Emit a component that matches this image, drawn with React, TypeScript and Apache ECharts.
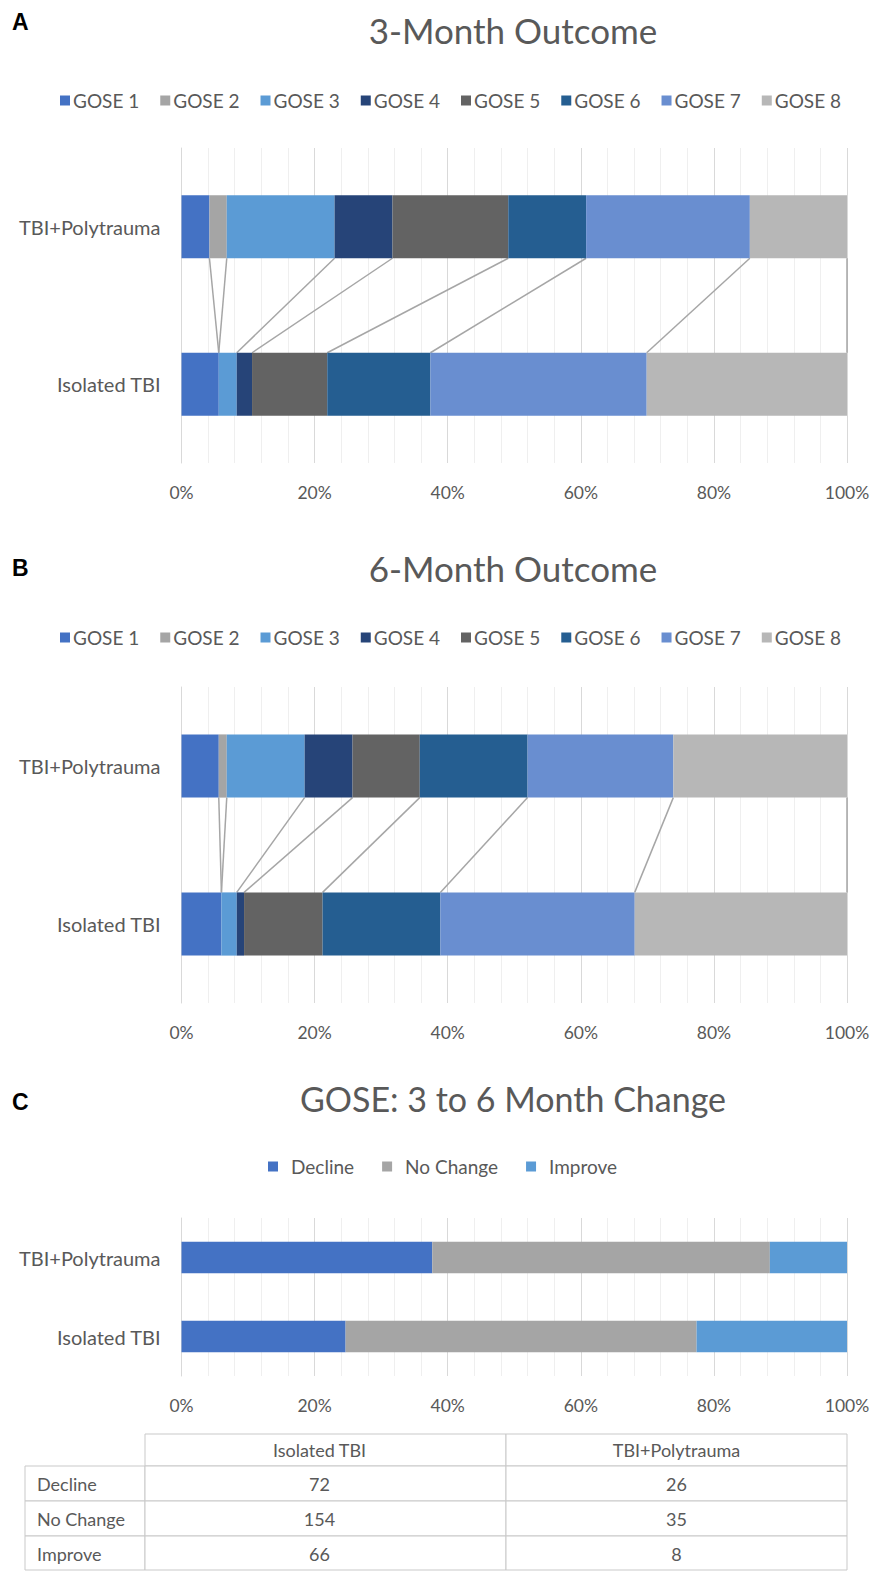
import React, { useEffect, useRef } from "react";
import * as echarts from "echarts";

const categories = ["Isolated TBI", "TBI+Polytrauma"];
const goseNames = ["GOSE 1", "GOSE 2", "GOSE 3", "GOSE 4", "GOSE 5", "GOSE 6", "GOSE 7", "GOSE 8"];
const goseColors = ["#4472C4", "#A5A5A5", "#5B9BD5", "#264478", "#636363", "#255E91", "#698ED0", "#B7B7B7"];

// percent of patients per GOSE level
const m3Isolated = [5.6, 0, 2.7, 2.3, 11.3, 15.5, 32.5, 30.1];
const m3Poly = [4.2, 2.6, 16.2, 8.7, 17.4, 11.7, 24.6, 14.6];
const m6Isolated = [6.0, 0, 2.3, 1.1, 11.8, 17.7, 29.2, 31.9];
const m6Poly = [5.6, 1.2, 11.7, 7.2, 10.1, 16.2, 21.9, 26.1];

const changeNames = ["Decline", "No Change", "Improve"];
const changeColors = ["#4472C4", "#A5A5A5", "#5B9BD5"];
const changeIsolated = [72, 154, 66];
const changePoly = [26, 35, 8];

const titles = ["3-Month Outcome", "6-Month Outcome", "GOSE: 3 to 6 Month Change"];
const panelLetters = ["A", "B", "C"];
const xTickValues = [0, 20, 40, 60, 80, 100];

const FONT = "Lato, 'Open Sans', sans-serif";
const TXT = "#595959";

function cumulative(arr: number[]) {
  const out: number[] = [];
  let s = 0;
  for (const v of arr) {
    s += v;
    out.push(s);
  }
  return out;
}

export default function App() {
  const ref = useRef<HTMLDivElement>(null);

  useEffect(() => {
    document.body.style.margin = "0";
    if (!ref.current) return;
    const chart = echarts.init(ref.current, undefined, { renderer: "svg" });

    const grids = [
      { left: 181.5, right: 31, top: 148, height: 315 },
      { left: 181.5, right: 31, top: 687, height: 316 },
      { left: 181.5, right: 31, top: 1218, height: 158 },
    ];

    const xAxes = grids.map((_, g) => ({
      type: "value",
      gridIndex: g,
      min: xTickValues[0],
      max: xTickValues[xTickValues.length - 1],
      interval: 20,
      axisLine: { show: false },
      axisTick: { show: false },
      axisLabel: {
        formatter: (v: number) => `${v}%`,
        color: TXT,
        fontSize: 17.5,
        fontFamily: FONT,
        margin: 20,
      },
      splitLine: { show: true, lineStyle: { color: "#d9d9d9", width: 1 } },
      minorTick: { show: false, splitNumber: 5 },
      minorSplitLine: { show: true, lineStyle: { color: "#efefef", width: 1 } },
    }));

    const yAxes = grids.map((_, g) => ({
      type: "category",
      gridIndex: g,
      data: categories,
      axisLine: { show: true, lineStyle: { color: "#d9d9d9" } },
      axisTick: { show: false },
      axisLabel: { color: TXT, fontSize: 20, fontFamily: FONT, margin: 21 },
    }));

    const series: any[] = [];
    const panels = [
      { iso: m3Isolated, poly: m3Poly },
      { iso: m6Isolated, poly: m6Poly },
    ];
    panels.forEach((p, g) => {
      goseNames.forEach((name, i) => {
        series.push({
          type: "bar",
          name,
          xAxisIndex: g,
          yAxisIndex: g,
          stack: "s" + g,
          barWidth: "40%",
          itemStyle: { color: goseColors[i] },
          data: [p.iso[i], p.poly[i]],
          silent: true,
        });
      });
      const cTop = cumulative(p.poly);
      const cBot = cumulative(p.iso);
      series.push({
        type: "custom",
        xAxisIndex: g,
        yAxisIndex: g,
        silent: true,
        encode: { x: [0, 1], y: 2 },
        data: cTop.map((t, i) => [t, cBot[i], 0]),
        renderItem: (params: any, api: any) => {
          const top = api.coord([api.value(0), 1]);
          const bot = api.coord([api.value(1), 0]);
          const band = Math.abs(api.coord([0, 0])[1] - api.coord([0, 1])[1]);
          const half = (band * 0.4) / 2;
          return {
            type: "line",
            shape: { x1: top[0], y1: top[1] + half, x2: bot[0], y2: bot[1] - half },
            style: { stroke: "#a6a6a6", lineWidth: 1.5 },
          };
        },
      });
    });

    const sumIso = changeIsolated.reduce((a, b) => a + b, 0);
    const sumPoly = changePoly.reduce((a, b) => a + b, 0);
    changeNames.forEach((name, i) => {
      series.push({
        type: "bar",
        name,
        xAxisIndex: 2,
        yAxisIndex: 2,
        stack: "c",
        barWidth: "40%",
        itemStyle: { color: changeColors[i] },
        data: [(changeIsolated[i] / sumIso) * 100, (changePoly[i] / sumPoly) * 100],
        silent: true,
      });
    });

    const legendText = { color: TXT, fontSize: 19, fontFamily: FONT };
    const legends = [
      { data: goseNames, left: 60, top: 91, itemGap: 21, itemWidth: 10, itemHeight: 10, icon: "rect", textStyle: { ...legendText, padding: [0, 0, 0, -2] }, padding: 0, selectedMode: false },
      { data: goseNames, left: 60, top: 628, itemGap: 21, itemWidth: 10, itemHeight: 10, icon: "rect", textStyle: { ...legendText, padding: [0, 0, 0, -2] }, padding: 0, selectedMode: false },
      { data: changeNames, left: 268, top: 1157, itemGap: 28, itemWidth: 10, itemHeight: 10, icon: "rect", textStyle: { ...legendText, padding: [0, 0, 0, 8] }, padding: 0, selectedMode: false },
    ];

    const titleTops = [12, 550, 1081];
    const titleSizes = [35, 35, 34];
    const title = titles.map((t, i) => ({
      text: t,
      left: 513,
      top: titleTops[i],
      textAlign: "center",
      padding: 0,
      textStyle: { color: TXT, fontSize: titleSizes[i], fontWeight: "normal", fontFamily: FONT },
    }));

    const letterTops = [10, 556, 1090];
    const graphics: any[] = panelLetters.map((l, i) => ({
      type: "text",
      left: 12,
      top: letterTops[i],
      style: { text: l, font: "bold 23px 'Liberation Sans', Arial, sans-serif", fill: "#000" },
    }));

    // table
    const tX = [25, 145, 506, 847];
    const headerTop = 1434;
    const headerH = 32;
    const rowH = 35;
    const border = "#c9c9c9";
    const cellText = (text: string, x: number, y: number, align: string) => ({
      type: "text",
      x,
      y,
      style: { text, font: `18px ${FONT}`, fill: TXT, align, verticalAlign: "middle" },
    });
    graphics.push({
      type: "rect",
      shape: { x: tX[1], y: headerTop, width: tX[2] - tX[1], height: headerH },
      style: { fill: "#fff", stroke: border, lineWidth: 1 },
    });
    graphics.push({
      type: "rect",
      shape: { x: tX[2], y: headerTop, width: tX[3] - tX[2], height: headerH },
      style: { fill: "#fff", stroke: border, lineWidth: 1 },
    });
    graphics.push(cellText(categories[0], (tX[1] + tX[2]) / 2 - 6, headerTop + headerH / 2, "center"));
    graphics.push(cellText(categories[1], (tX[2] + tX[3]) / 2, headerTop + headerH / 2, "center"));
    changeNames.forEach((name, r) => {
      const y = headerTop + headerH + r * rowH;
      for (let c = 0; c < 3; c++) {
        graphics.push({
          type: "rect",
          shape: { x: tX[c], y, width: tX[c + 1] - tX[c], height: rowH - (r === 2 ? 1 : 0) },
          style: { fill: "#fff", stroke: border, lineWidth: 1 },
        });
      }
      graphics.push(cellText(name, tX[0] + 12, y + rowH / 2, "left"));
      graphics.push(cellText(String(changeIsolated[r]), (tX[1] + tX[2]) / 2 - 6, y + rowH / 2, "center"));
      graphics.push(cellText(String(changePoly[r]), (tX[2] + tX[3]) / 2, y + rowH / 2, "center"));
    });

    chart.setOption({
      animation: false,
      backgroundColor: "#fff",
      title,
      legend: legends,
      grid: grids,
      xAxis: xAxes,
      yAxis: yAxes,
      series,
      graphic: graphics,
    });

    return () => chart.dispose();
  }, []);

  return <div ref={ref} style={{ width: 878, height: 1571 }} />;
}
